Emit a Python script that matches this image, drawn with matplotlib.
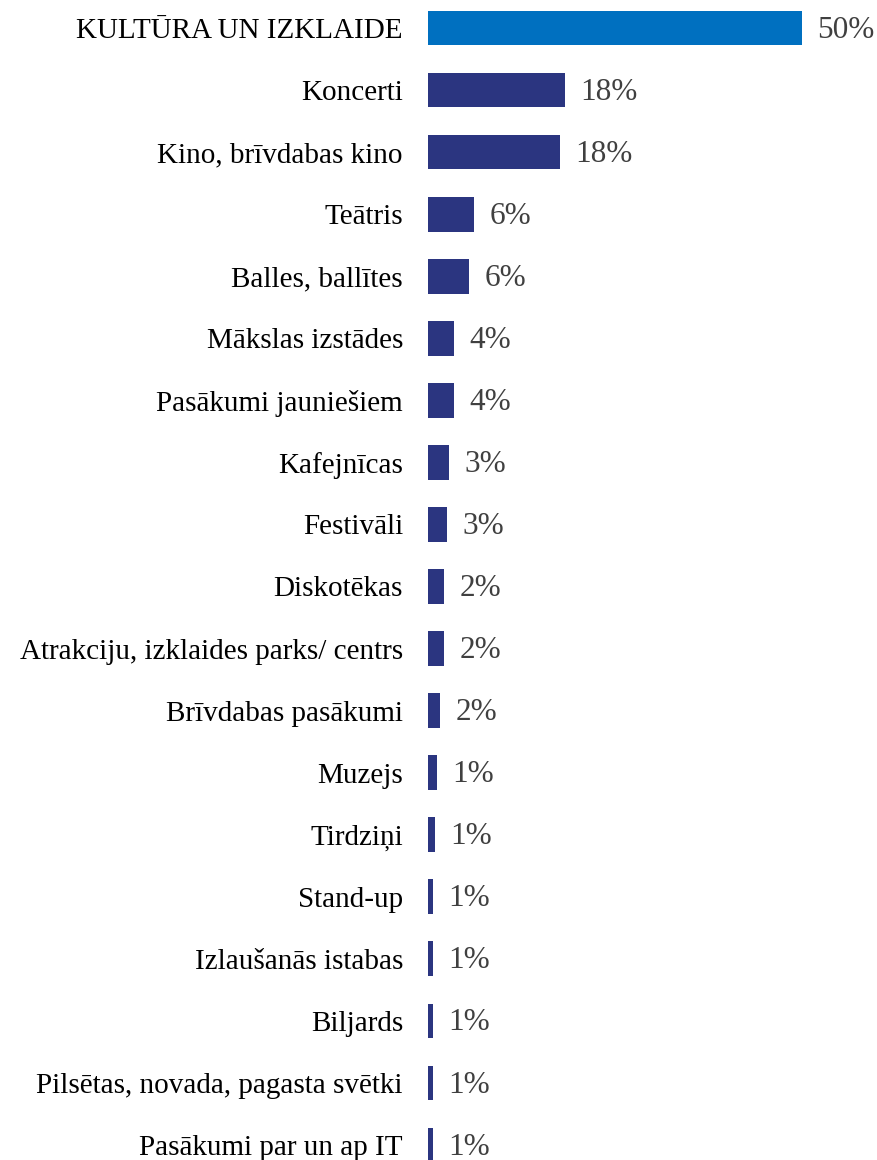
import numpy as np
import matplotlib.pyplot as plt

categories = [
    "KULTŪRA UN IZKLAIDE",
    "Koncerti",
    "Kino, brīvdabas kino",
    "Teātris",
    "Balles, ballītes",
    "Mākslas izstādes",
    "Pasākumi jauniešiem",
    "Kafejnīcas",
    "Festivāli",
    "Diskotēkas",
    "Atrakciju, izklaides parks/ centrs",
    "Brīvdabas pasākumi",
    "Muzejs",
    "Tirdziņi",
    "Stand-up",
    "Izlaušanās istabas",
    "Biljards",
    "Pilsētas, novada, pagasta svētki",
    "Pasākumi par un ap IT",
]
values = [50.0, 18.3, 17.6, 6.15, 5.5, 3.5, 3.5, 2.85, 2.6, 2.2, 2.2, 1.6,
          1.25, 0.98, 0.67, 0.67, 0.67, 0.67, 0.67]
labels = ["50%", "18%", "18%", "6%", "6%", "4%", "4%", "3%", "3%", "2%", "2%",
          "2%", "1%", "1%", "1%", "1%", "1%", "1%", "1%"]

plt.rcParams['font.family'] = ['Liberation Serif', 'DejaVu Serif']

fig = plt.figure(figsize=(8.78, 11.6), dpi=100)
ax = fig.add_axes([428 / 878, 0, 450 / 878, 1])

y = np.arange(len(categories))
colors = ['#0070C0'] + ['#2B3580'] * (len(categories) - 1)
bars = ax.barh(y, values, height=0.56, color=colors)

for bar, lab in zip(bars, labels):
    ax.annotate(lab, (bar.get_width(), bar.get_y() + bar.get_height() / 2),
                xytext=(11, -1.5), textcoords='offset points',
                va='center', ha='left', fontsize=22.5, color='#404040')

ax.set_xlim(0, 50 * 450 / 374)
ax.set_ylim(18 + 15 / 62.06, -28 / 62.06)
ax.set_yticks(y)
ax.set_yticklabels(categories, fontsize=21)
ax.tick_params(axis='y', length=0, pad=18)
ax.set_xticks([])
for s in ax.spines.values():
    s.set_visible(False)

fig.savefig('out.png', dpi=100)
